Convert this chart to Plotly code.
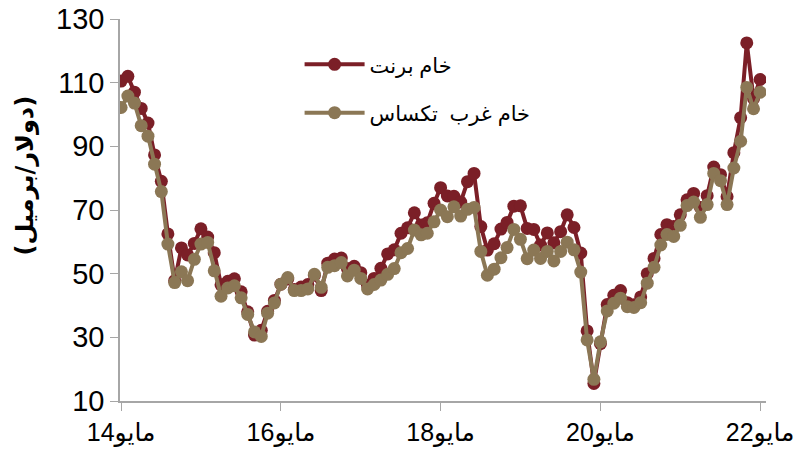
import pandas as pd
import plotly.graph_objects as go

# monthly averages, May 2014 - May 2022 (USD per barrel)
months = pd.date_range("2014-05-01", periods=97, freq="MS")

brent = [
    110.5, 112.0, 107.0, 101.9, 97.3, 87.3, 79.0, 62.5,
    47.8, 58.1, 55.9, 59.5, 64.1, 61.5, 56.6, 46.5, 47.6, 48.4, 44.3, 38.0,
    30.7, 32.2, 38.2, 41.6, 46.7, 48.3, 45.0, 45.8, 46.6, 49.5, 44.7, 53.3,
    54.6, 54.9, 51.6, 52.3, 50.3, 46.4, 48.5, 51.7, 56.2, 57.5, 62.7, 64.4,
    69.1, 65.3, 66.0, 72.1, 77.0, 74.4, 74.3, 72.5, 78.9, 81.5, 64.8, 57.4,
    59.4, 64.0, 66.1, 71.2, 71.3, 64.2, 63.9, 59.0, 62.8, 59.7, 63.2, 68.5,
    64.5, 56.5, 32.0, 15.5, 28.0, 40.3, 43.2, 44.7, 40.9, 40.2, 42.7, 50.0,
    54.8, 62.3, 65.4, 64.8, 68.5, 73.2, 75.2, 70.8, 74.5, 83.5, 81.1, 74.2,
    88.0, 99.0, 122.5, 105.0, 111.0,
]

wti = [
    102.2, 105.8, 103.6, 96.5, 93.2, 84.4, 75.8, 59.3,
    47.2, 50.6, 47.8, 54.5, 59.3, 59.8, 50.9, 42.9, 45.5, 46.2, 42.4, 37.2,
    31.7, 30.3, 37.6, 40.8, 46.7, 48.8, 44.7, 44.7, 45.2, 49.8, 45.7, 52.0,
    52.5, 53.5, 49.3, 51.1, 48.5, 45.2, 46.6, 48.0, 49.8, 51.6, 56.6, 57.9,
    63.7, 62.2, 62.7, 66.3, 70.0, 67.9, 71.0, 68.1, 70.2, 70.8, 57.0, 49.5,
    51.4, 55.0, 58.2, 63.9, 60.8, 54.7, 57.4, 54.8, 57.0, 54.0, 57.0, 59.9,
    57.5, 50.5, 29.2, 16.8, 28.6, 38.3, 40.7, 42.3, 39.6, 39.4, 40.9, 47.0,
    52.0, 59.0, 62.3, 61.7, 65.2, 71.4, 72.5, 67.7, 71.7, 81.5, 79.2, 71.7,
    83.2, 91.6, 108.5, 101.8, 107.0,
]

tick_dates = ["2014-05-01", "2016-05-01", "2018-05-01", "2020-05-01", "2022-05-01"]
tick_text = ["مايو14", "مايو16", "مايو18", "مايو20", "مايو22"]

RED = "#7B1F27"
TAN = "#8B7755"
FONT = "Liberation Sans, Arial, DejaVu Sans, sans-serif"

fig = go.Figure()
fig.add_trace(go.Scatter(x=months, y=brent, mode="lines+markers", name="خام برنت",
                         legendgroup="a",
                         line=dict(color=RED, width=4),
                         marker=dict(color=RED, size=13)))
fig.add_trace(go.Scatter(x=months, y=wti, mode="lines+markers", name="خام غرب\u00a0 تكساس",
                         legendgroup="b",
                         line=dict(color=TAN, width=4),
                         marker=dict(color=TAN, size=13)))

fig.add_annotation(xref="paper", yref="paper", x=-0.172, y=0.59,
                   text="<b>(دولار/برميل)</b>", textangle=-90, showarrow=False,
                   font=dict(size=24, color="black", family="DejaVu Sans, Arial, sans-serif"))

fig.update_layout(
    width=795, height=455,
    margin=dict(l=120, r=29, t=19, b=54, autoexpand=False),
    plot_bgcolor="white", paper_bgcolor="white",
    font=dict(family=FONT, color="black"),
    showlegend=True,
    legend=dict(x=0.278, y=0.934, xanchor="left", yanchor="top",
                font=dict(size=21, color="black", family=FONT),
                traceorder="grouped", tracegroupgap=18,
                itemwidth=60, bgcolor="rgba(0,0,0,0)"),
)
fig.update_xaxes(type="date", range=["2014-04-26", "2022-05-28"],
                 tickvals=tick_dates, ticktext=tick_text, automargin=False,
                 showgrid=False, zeroline=False,
                 showline=True, linecolor="#A6A6A6", linewidth=1.5,
                 ticks="outside", ticklen=8, tickcolor="#A6A6A6",
                 tickfont=dict(size=25))
fig.update_yaxes(range=[10, 130], tickvals=[10, 30, 50, 70, 90, 110, 130],
                 automargin=False,
                 showgrid=False, zeroline=False,
                 showline=True, linecolor="#A6A6A6", linewidth=1.5,
                 ticks="outside", ticklen=8, tickcolor="#A6A6A6",
                 tickfont=dict(size=29))

fig.write_html("out.html", config={"displayModeBar": False},
               post_script="document.body.style.margin='0';")
